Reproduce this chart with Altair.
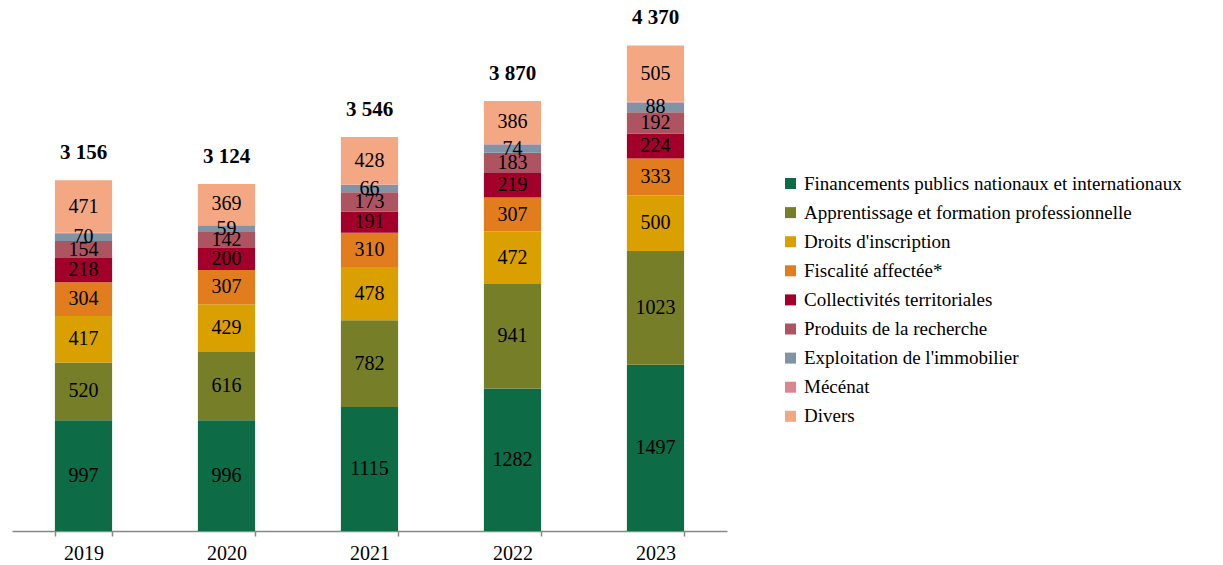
import altair as alt
import pandas as pd

years = ["2019", "2020", "2021", "2022", "2023"]
categories = [
    "Financements publics nationaux et internationaux",
    "Apprentissage et formation professionnelle",
    "Droits d'inscription",
    "Fiscalité affectée*",
    "Collectivités territoriales",
    "Produits de la recherche",
    "Exploitation de l'immobilier",
    "Mécénat",
    "Divers",
]
colors = ["#0D6B45", "#767F28", "#D9A000", "#E17D1D", "#A2002A",
          "#AE5461", "#8194A5", "#DB868E", "#F4A783"]

financements = [997, 996, 1115, 1282, 1497]
apprentissage = [520, 616, 782, 941, 1023]
droits = [417, 429, 478, 472, 500]
fiscalite = [304, 307, 310, 307, 333]
collectivites = [218, 200, 191, 219, 224]
recherche = [154, 142, 173, 183, 192]
immobilier = [70, 59, 66, 74, 88]
mecenat = [5, 6, 3, 6, 8]
divers = [471, 369, 428, 386, 505]
totals = [3156, 3124, 3546, 3870, 4370]
total_labels = ["3 156", "3 124", "3 546", "3 870", "4 370"]

series = [financements, apprentissage, droits, fiscalite, collectivites,
          recherche, immobilier, mecenat, divers]

rows = []
for ci, (cat, vals) in enumerate(zip(categories, series)):
    for yi, yr in enumerate(years):
        rows.append({"year": yr, "cat": cat, "order": ci, "value": vals[yi],
                     "show": cat != "Mécénat"})
df = pd.DataFrame(rows)
tot = pd.DataFrame({"year": years, "total": totals, "label": total_labels})

FONT = "Liberation Serif"

x = alt.X("year:N", sort=years, title=None,
          scale=alt.Scale(paddingInner=0.6, paddingOuter=0.3),
          axis=alt.Axis(labelAngle=0, labelFontSize=20, labelFont=FONT,
                        labelColor="#000000", domainColor="#888888",
                        tickColor="#888888", tickSize=5, tickBand="extent",
                        labelPadding=7, domainWidth=1.5, tickWidth=1.5))
yscale = alt.Scale(domain=[0, 4500], nice=False)

base = alt.Chart(df).transform_stack(
    stack="value", groupby=["year"], sort=[alt.SortField("order", order="ascending")],
    as_=["y0", "y1"]
).transform_calculate(mid="(datum.y0 + datum.y1) / 2")

bars = base.mark_bar(stroke=None).encode(
    x=x,
    y=alt.Y("y0:Q", scale=yscale, axis=None),
    y2="y1:Q",
    color=alt.Color("cat:N", sort=categories,
                    scale=alt.Scale(domain=categories, range=colors),
                    legend=alt.Legend(title=None, orient="none", legendX=769,
                                      legendY=143, symbolType="square",
                                      symbolSize=121, symbolStrokeWidth=0,
                                      labelFont=FONT, labelFontSize=19,
                                      labelColor="#000000", rowPadding=9.1,
                                      labelOffset=4, padding=0,
                                      labelLimit=500)),
)

labels = base.transform_filter("datum.show").mark_text(
    font=FONT, fontSize=20, color="#000000", baseline="middle"
).encode(
    x=alt.X("year:N", sort=years),
    y=alt.Y("mid:Q", scale=yscale),
    text="value:Q",
)

tlabels = alt.Chart(tot).mark_text(
    font=FONT, fontSize=21, fontWeight="bold", color="#000000",
    baseline="middle", dy=-27
).encode(
    x=alt.X("year:N", sort=years),
    y=alt.Y("total:Q", scale=yscale),
    text="label:N",
)

chart = alt.layer(bars, labels, tlabels).properties(
    width=715, height=500,
    autosize=alt.AutoSizeParams(type="none"),
    padding={"left": 4, "top": 23, "right": 480, "bottom": 34},
).configure_view(stroke=None)

chart.save("out.html", embed_options={"renderer": "svg", "actions": False})
